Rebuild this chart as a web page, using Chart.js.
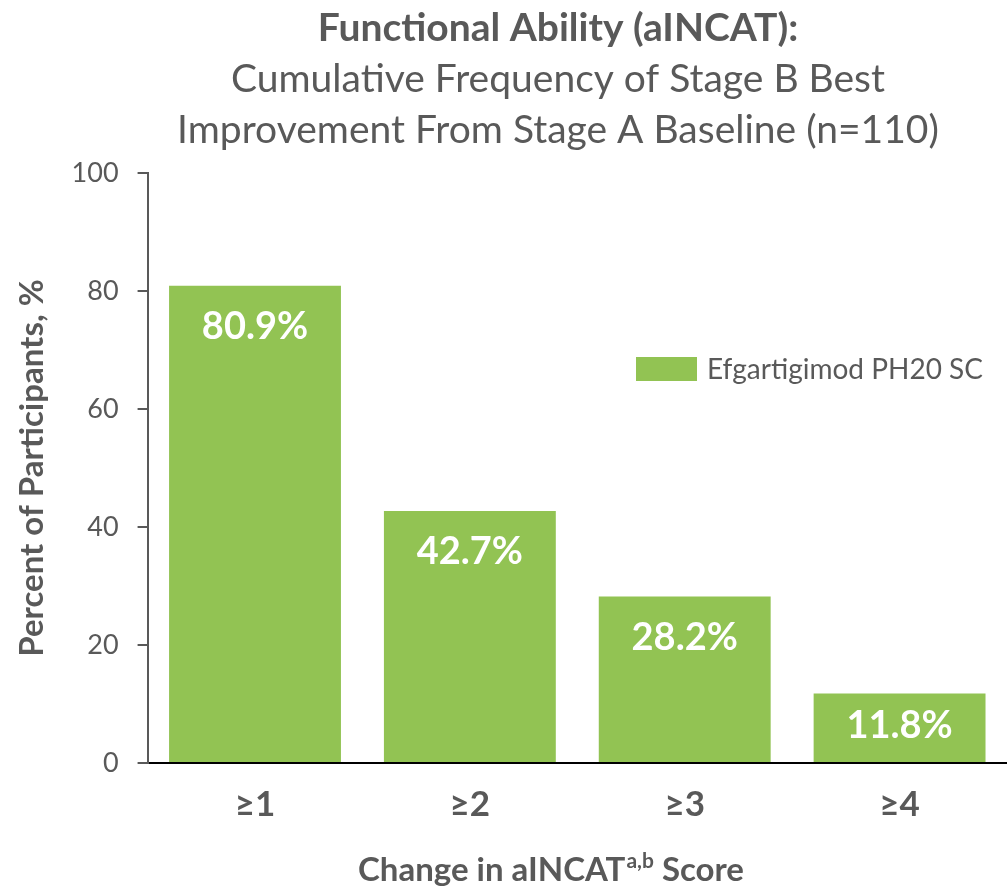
<!DOCTYPE html>
<html><head><meta charset="utf-8">
<script src="https://cdn.jsdelivr.net/npm/chart.js@4"></script>
<style>html,body{margin:0;padding:0;background:#fff}#wrap{width:1007px;height:890px;position:relative}</style>
</head><body><div id="wrap"><canvas id="c"></canvas></div>
<script>
const categories = ['≥1', '≥2', '≥3', '≥4'];
const seriesName = 'Efgartigimod PH20 SC';
const values = [80.9, 42.7, 28.2, 11.8];
const yTickValues = [0, 20, 40, 60, 80, 100];
const titleLines = ['Functional Ability (aINCAT):', 'Cumulative Frequency of Stage B Best', 'Improvement From Stage A Baseline (n=110)'];
const yTitle = 'Percent of Participants, %';
const xTitleParts = ['Change in aINCAT', 'a,b', ' Score'];

const FONT = 'Lato, "Open Sans", sans-serif';
const GREY = '#595959';
const GREEN = '#92C353';

const decorPlugin = {
  id: 'decor',
  afterDraw(chart) {
    const ctx = chart.ctx;
    ctx.save();
    ctx.fillStyle = GREY;
    ctx.textAlign = 'center';
    ctx.textBaseline = 'middle';
    const tx = 558;
    ctx.font = 'bold 39px ' + FONT;
    ctx.fillText(titleLines[0], tx, 28);
    ctx.font = '39px ' + FONT;
    ctx.fillText(titleLines[1], tx, 79);
    ctx.fillText(titleLines[2], tx, 130);
    const f1 = 'bold 33px ' + FONT, f2 = 'bold 21px ' + FONT;
    ctx.font = f1; const w1 = ctx.measureText(xTitleParts[0]).width, w3 = ctx.measureText(xTitleParts[2]).width;
    ctx.font = f2; const w2 = ctx.measureText(xTitleParts[1]).width;
    let x = 551 - (w1 + w2 + w3 + 1) / 2;
    ctx.textAlign = 'left';
    ctx.textBaseline = 'alphabetic';
    const by = 881;
    ctx.font = f1; ctx.fillText(xTitleParts[0], x, by); x += w1;
    ctx.font = f2; ctx.fillText(xTitleParts[1], x + 1, by - 13); x += w2 + 1;
    ctx.font = f1; ctx.fillText(xTitleParts[2], x, by);
    const ds = chart.data.datasets[0];
    ctx.fillStyle = ds.backgroundColor;
    ctx.fillRect(636, 357, 61, 24);
    ctx.fillStyle = GREY;
    ctx.font = '28px ' + FONT;
    ctx.textBaseline = 'middle';
    ctx.fillText(ds.label, 707, 370);
    ctx.restore();
  },
  afterDatasetsDraw(chart) {
    const ctx = chart.ctx;
    const meta = chart.getDatasetMeta(0);
    ctx.save();
    ctx.fillStyle = '#ffffff';
    ctx.font = 'bold 38px ' + FONT;
    ctx.textAlign = 'center';
    ctx.textBaseline = 'middle';
    meta.data.forEach((el, i) => {
      const v = chart.data.datasets[0].data[i];
      const y = Math.min(el.y + 41, (el.y + el.base) / 2 - 2);
      ctx.fillText(v.toFixed(1) + '%', el.x, y);
    });
    ctx.restore();
  }
};

new Chart(document.getElementById('c'), {
  type: 'bar',
  data: {
    labels: categories,
    datasets: [{
      label: seriesName,
      data: values,
      backgroundColor: GREEN,
      borderWidth: 0,
      categoryPercentage: 1.0,
      barPercentage: 0.8
    }]
  },
  options: {
    responsive: true,
    maintainAspectRatio: false,
    animation: false,
    layout: { padding: { top: 173, left: 13, right: 0, bottom: 43 } },
    plugins: {
      legend: { display: false },
      title: { display: false },
      tooltip: { enabled: false }
    },
    scales: {
      x: {
        grid: { display: false, drawTicks: false },
        border: { display: true, color: '#000000', width: 2 },
        ticks: { color: GREY, font: { family: FONT, size: 35, weight: 'bold' }, padding: 21 }
      },
      y: {
        min: 0, max: 100,
        afterBuildTicks(scale) { scale.ticks = yTickValues.map(v => ({ value: v })); },
        grid: { display: true, drawOnChartArea: false, drawTicks: true, tickLength: 10, color: GREY, lineWidth: 2 },
        border: { display: true, color: GREY, width: 2 },
        ticks: { color: GREY, font: { family: FONT, size: 27 }, padding: 19 },
        title: { display: true, text: yTitle, color: GREY, font: { family: FONT, size: 33, weight: 'bold' }, padding: { top: 0, bottom: 0 } }
      }
    }
  },
  plugins: [decorPlugin]
});
</script>
</body></html>
